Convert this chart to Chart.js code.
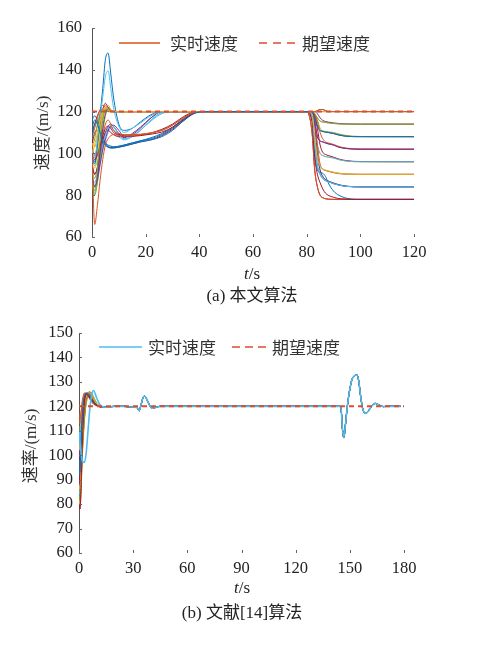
<!DOCTYPE html>
<html>
<head>
<meta charset="utf-8">
<script src="https://cdn.jsdelivr.net/npm/chart.js@4.4.1/dist/chart.umd.min.js"></script>
<style>
html, body { margin: 0; padding: 0; background: #fff; }
#wrapA { position: absolute; left: 0; top: 0; width: 477px; height: 310px; }
#wrapB { position: absolute; left: 0; top: 310px; width: 477px; height: 337px; }
</style>
</head>
<body>
<div id="wrapA"><canvas id="chartA"></canvas></div>
<div id="wrapB"><canvas id="chartB"></canvas></div>
<script>
// MATLAB 默认配色
const palette = ['#0072BD', '#D95319', '#EDB120', '#7E2F8E', '#77AC30', '#4DBEEE', '#A2142F'];
const dashColor = '#DE4B32';

// ---------- (a) 本文算法 ----------
const refTimeA = [0, 120];
const refSpeedA = [120, 120];

// 前段时间 (0-42 s)
const tEarlyA = [0, 1, 2, 3, 4, 5, 6, 7, 8, 10, 12, 15, 18, 22, 26, 30, 34, 38, 42];
// 快速收敛
const fastA = [100, 104, 110, 116, 121, 122, 121, 120.5, 120, 120, 120, 120, 120, 120, 120, 120, 120, 120, 120];
const fastB = [95, 93, 100, 110, 118, 122, 123, 121, 120, 120, 120, 120, 120, 120, 120, 120, 120, 120, 120];
const fastC = [108, 112, 117, 121, 123, 122, 121, 120, 120, 120, 120, 120, 120, 120, 120, 120, 120, 120, 120];
const fastD = [90, 84, 88, 100, 112, 119, 121, 120.5, 120, 120, 120, 120, 120, 120, 120, 120, 120, 120, 120];
const fastE = [105, 103, 108, 115, 120, 121.5, 121, 120, 120, 120, 120, 120, 120, 120, 120, 120, 120, 120, 120];
const fastF = [98, 96, 104, 114, 121, 124, 122, 120.5, 120, 120, 120, 120, 120, 120, 120, 120, 120, 120, 120];
const fastG = [88, 82, 92, 106, 116, 121, 121, 120, 120, 120, 120, 120, 120, 120, 120, 120, 120, 120, 120];
const fastH = [103, 107, 114, 119, 121, 120.5, 120, 120, 120, 120, 120, 120, 120, 120, 120, 120, 120, 120, 120];
const fastI = [110, 114, 118, 120.5, 121, 120.5, 120, 120, 120, 120, 120, 120, 120, 120, 120, 120, 120, 120, 120];
const fastJ = [92, 88, 94, 106, 116, 121, 122, 121, 120, 120, 120, 120, 120, 120, 120, 120, 120, 120, 120];
const fastK = [107, 109, 113, 118, 121, 123, 122, 120.5, 120, 120, 120, 120, 120, 120, 120, 120, 120, 120, 120];
const fastL = [85, 80, 86, 98, 110, 118, 121, 120.5, 120, 120, 120, 120, 120, 120, 120, 120, 120, 120, 120];
const fastM = [101, 99, 104, 112, 119, 122, 121, 120, 120, 120, 120, 120, 120, 120, 120, 120, 120, 120, 120];
// 尖峰
const spikeA = [98, 95, 104, 118, 131, 145, 148, 138, 127, 114, 111, 112, 115, 118.5, 120, 120, 120, 120, 120];
const spikeB = [102, 98, 106, 117, 127, 137, 139.5, 131, 122, 113, 110, 112, 114.5, 118, 120, 120, 120, 120, 120];
// 中速(先鼓包再上升)
const medA = [90, 86, 90, 97, 104, 109, 112, 113.5, 113, 109, 107, 108.5, 111, 116, 119.5, 120, 120, 120, 120];
const medB = [98, 94, 96, 101, 106, 110, 112, 112.5, 111.5, 108, 106.5, 108, 111, 115.5, 119, 120, 120, 120, 120];
const medC = [88, 84, 88, 95, 102, 107, 111, 113, 113.5, 111, 108, 109, 112, 117, 120, 120, 120, 120, 120];
const medD = [94, 90, 93, 99, 105, 110, 113, 114, 113, 109.5, 107.5, 109.5, 112.5, 117, 120, 120, 120, 120, 120];
const medE = [86, 81, 86, 94, 101, 106, 110, 112, 112.5, 109, 107, 108, 111, 116, 119.5, 120, 120, 120, 120];
// 慢速(平台约 109)
const slowA = [100, 97, 99, 103, 108, 112, 113, 112, 110, 109, 108.5, 108.2, 108.5, 109.2, 110.2, 112.5, 116, 119.3, 120];
const slowB = [104, 99, 100, 104, 109, 114, 116, 114, 111, 109.5, 109, 109, 109.2, 109.8, 111, 113.5, 117, 119.6, 120];
const slowC = [100, 66, 75, 87, 97, 104, 107, 108.5, 109, 108.5, 108.3, 108.5, 109, 109.8, 111, 113.5, 117, 119.5, 120];
const slowD = [95, 90, 93, 100, 106, 110, 111, 110, 109, 108, 108, 108.3, 108.8, 109.8, 111.5, 114, 117.5, 119.8, 120];
// 慢速(先高后降到约 103)
const lowA = [112, 116, 114, 110, 106, 104, 103, 102.5, 102.5, 103, 103.5, 104.5, 105.5, 106.5, 108, 111, 115.5, 119, 120];
const lowB = [108, 114, 115, 112, 108, 105, 103.5, 103, 103, 103.5, 104, 105, 106, 107.5, 109.5, 112.5, 116.5, 119.5, 120];
const lowC = [116, 118, 116, 112, 108, 105, 104, 103.5, 103.2, 103.3, 104, 105, 106, 107, 109, 112, 116, 119.5, 120];
const lowD = [104, 110, 111, 109, 106, 104, 103, 102.8, 102.8, 103, 103.5, 104.5, 105.5, 106.5, 108.5, 111.5, 115.5, 119.2, 120];

// 后段时间 (80-120 s)
const tLateA = [80, 82, 83, 84, 85, 86, 87, 88, 90, 92, 95, 100, 120];
const keep120a = [120, 120, 120, 120.5, 121, 121, 120.5, 120, 120, 120, 120, 120, 120];
const keep120b = [120, 120, 120, 120, 120, 120, 120, 120, 120, 120, 120, 120, 120];
const to114a = [120, 120, 119, 117, 115.5, 115, 114.8, 114.6, 114.3, 114.1, 114, 114, 114];
const to114b = [120, 120, 120, 119, 117, 115.8, 115.3, 115, 114.6, 114.3, 114.1, 114, 114];
const to108a = [120, 120, 117, 113, 111, 110.5, 110.2, 110, 109.5, 108.8, 108.2, 108, 108];
const to108b = [120, 120, 119, 116, 112, 110.8, 110.5, 110.3, 110, 109.3, 108.5, 108.1, 108];
const to102a = [120, 120, 115, 108, 106, 105.5, 105, 104.6, 104, 103, 102.3, 102, 102];
const to102b = [120, 120, 119, 115, 110, 107, 105.5, 105, 104.3, 103.3, 102.5, 102.1, 102];
const to96a = [120, 120, 113, 104, 100, 99, 98.5, 98.2, 97.8, 97, 96.3, 96, 96];
const to96b = [120, 120, 118, 112, 104, 100.5, 99.5, 99, 98.2, 97.3, 96.5, 96.1, 96];
const to90a = [120, 119, 108, 98, 94, 92.5, 92, 91.6, 91, 90.5, 90.1, 90, 90];
const to90b = [120, 120, 116, 104, 95, 92.5, 91.8, 91.4, 90.8, 90.3, 90.1, 90, 90];
const to84a = [120, 118, 104, 94, 90, 88, 87, 86.5, 85.5, 84.8, 84.2, 84, 84];
const to84b = [120, 120, 114, 100, 92, 89, 87.5, 86.8, 85.8, 85, 84.3, 84, 84];
const to78a = [120, 115, 98, 90, 86, 83, 81, 80, 79, 78.4, 78.1, 78, 78];
const to78b = [120, 110, 92, 84, 80, 78.8, 78.3, 78.1, 78, 78, 78, 78, 78];
const to78c = [120, 116, 100, 92, 91, 90.5, 89, 86, 82, 80, 78.5, 78, 78];

// 每条曲线: [前段, 后段]
const pairsA = [
  [lowA, to108a], [slowC, keep120a], [fastA, to90a], [fastD, to102a], [fastG, to114a],
  [spikeB, to84a], [slowA, to78a], [spikeA, to78c], [slowB, to90b], [fastB, keep120b],
  [medC, to84b], [fastL, keep120b], [medA, to96a], [slowD, to96b], [lowB, keep120a],
  [fastC, to102b], [fastE, to96a], [fastF, to114b], [fastH, to108b], [medE, to90a],
  [fastI, to108a], [lowC, to84a], [fastK, to78b], [fastM, to114a], [medD, to102a],
  [fastJ, to84b], [medB, keep120b], [lowD, to78b]
];

// ---------- (b) 文献[14]算法 ----------
const refTimeB = [0, 180];
const refSpeedB = [120, 120];

const tEarlyB = [0, 0.5, 1, 1.5, 2, 3, 4, 5, 6, 7, 8, 10, 12, 15, 20];
const earlyB = [
  [110, 106, 102, 99, 97.5, 97, 101, 110, 119, 124.5, 126.5, 123, 120.3, 119.6, 120],
  [80, 78, 84, 96, 108, 121, 125, 124.5, 123.5, 122.5, 121.5, 120.3, 119.8, 119.7, 120],
  [95, 93, 100, 110, 117, 124, 125.5, 125, 124, 123, 122, 120.5, 119.8, 119.8, 120],
  [115, 113, 116, 120, 123, 125.5, 125, 124, 123, 122, 121, 120.2, 119.8, 119.8, 120],
  [88, 86, 92, 102, 111, 120, 124, 125.5, 125.5, 124.5, 123, 120.8, 119.8, 119.6, 120],
  [102, 99, 104, 112, 118, 124, 125, 124.5, 123.5, 122.5, 121.5, 120.2, 119.8, 119.8, 120],
  [84, 82, 86, 95, 104, 115, 121, 124, 125.5, 125.5, 124, 121.2, 120, 119.6, 120],
  [110, 107, 110, 115, 120, 124.5, 125, 124, 123, 122, 121.2, 120.3, 119.9, 119.8, 120],
  [92, 89, 95, 105, 113, 122, 125, 125.5, 124.5, 123.5, 122.2, 120.5, 119.8, 119.7, 120],
  [98, 96, 102, 110, 116, 123, 125, 125, 124, 123, 121.8, 120.3, 119.8, 119.8, 120],
  [79, 78, 82, 92, 102, 114, 122, 125.5, 126, 125, 123, 120.8, 119.8, 119.6, 120],
  [106, 102, 105, 111, 116, 122, 124.5, 125, 124.5, 123.5, 122, 120.4, 119.9, 119.8, 120],
  [90, 87, 91, 100, 108, 118, 123, 125, 125.5, 124.5, 123, 120.7, 119.8, 119.7, 120],
  [112, 109, 112, 117, 121, 125, 125.5, 124.5, 123.5, 122, 121, 120.2, 119.9, 119.8, 120],
  [86, 84, 89, 98, 107, 118, 123.5, 125.5, 125.5, 124.5, 123, 120.7, 119.8, 119.6, 120],
  [100, 98, 103, 111, 117, 123.5, 125, 125, 124, 123, 121.8, 120.3, 119.8, 119.8, 120],
  [94, 91, 96, 105, 112, 120, 124, 125.5, 125, 124, 122.5, 120.5, 119.8, 119.7, 120],
  [117, 115, 117, 120, 122.5, 125, 125, 124, 123, 122, 121, 120.2, 119.9, 119.8, 120],
  [82, 80, 85, 94, 103, 115, 122, 125, 126, 125, 123.5, 121, 119.9, 119.6, 120],
  [104, 101, 106, 113, 118, 123, 124.5, 125, 124.5, 123.5, 122, 120.4, 119.9, 119.8, 120]
];
const tTailB = [25, 30, 32, 33.3, 34.5, 35.5, 36.4, 37.5, 39, 40, 41, 43, 45, 60, 144, 145, 146, 146.7, 147.5, 148.6,
  150, 151, 152, 153, 154, 155, 156, 157, 158, 158.7, 160, 162, 164, 166, 168.5, 172, 178];
const vTailB = [120, 119.6, 119.5, 118.2, 121, 123.6, 124.2, 123, 120.5, 119.5, 119.2, 119.7, 120, 120, 120, 119.8, 110, 107.3, 112, 120,
  127, 130.5, 132.1, 132.7, 132.8, 130, 124, 119.5, 117.3, 117.1, 117.8, 120, 121.2, 120.6, 119.9, 120, 120];

// ---------- 工具 ----------
function toPoints(ts, vs) {
  return ts.map((t, k) => ({ x: t, y: vs[k] }));
}

const serif = '"Liberation Serif", "Times New Roman", serif';
const mixed = '"Liberation Serif", "Noto Sans CJK SC", serif';

// 坐标内侧刻度、图例、坐标轴标题
const decor = {
  id: 'decor',
  afterDraw(chart, args, o) {
    const ctx = chart.ctx;
    const area = chart.chartArea;
    const xs = chart.scales.x;
    const ys = chart.scales.y;
    ctx.save();
    ctx.strokeStyle = '#666';
    ctx.lineWidth = 1;
    ctx.beginPath();
    xs.ticks.forEach(t => {
      const px = Math.round(xs.getPixelForValue(t.value)) + 0.5;
      ctx.moveTo(px, area.bottom);
      ctx.lineTo(px, area.bottom - 3);
    });
    ys.ticks.forEach(t => {
      const py = Math.round(ys.getPixelForValue(t.value)) + 0.5;
      ctx.moveTo(area.left, py);
      ctx.lineTo(area.left + 3, py);
    });
    ctx.stroke();

    // 图例
    ctx.textBaseline = 'middle';
    ctx.textAlign = 'left';
    o.legend.forEach(it => {
      const ds = chart.data.datasets[it.ds];
      ctx.strokeStyle = ds.borderColor;
      ctx.lineWidth = 1.3;
      ctx.setLineDash(it.dash);
      ctx.beginPath();
      ctx.moveTo(it.x1, o.legendY);
      ctx.lineTo(it.x2, o.legendY);
      ctx.stroke();
      ctx.setLineDash([]);
      ctx.font = '17px "Noto Sans CJK SC"';
      ctx.fillStyle = '#333';
      ctx.fillText(ds.label, it.tx, o.legendY + 1);
    });

    // 纵轴标题
    ctx.save();
    ctx.translate(o.yTitleX, o.yTitleY);
    ctx.rotate(-Math.PI / 2);
    ctx.textAlign = 'center';
    ctx.font = '17px ' + mixed;
    ctx.fillStyle = '#333';
    ctx.fillText(o.yTitle, 0, 0);
    ctx.restore();

    // 横轴标题 t/s
    ctx.font = 'italic 17px ' + serif;
    const w1 = ctx.measureText('t').width;
    ctx.font = '17px ' + serif;
    const w2 = ctx.measureText('/s').width;
    const sx = o.xTitleX - (w1 + w2) / 2;
    ctx.fillStyle = '#222';
    ctx.textAlign = 'left';
    ctx.font = 'italic 17px ' + serif;
    ctx.fillText('t', sx, o.xTitleY);
    ctx.font = '17px ' + serif;
    ctx.fillText('/s', sx + w1, o.xTitleY);

    // 图注
    ctx.textAlign = 'center';
    ctx.font = '17px ' + mixed;
    ctx.fillText(o.caption, o.xTitleX, o.captionY);
    ctx.restore();
  }
};

function makeOptions(xMin, xMax, xStep, yMin, yMax, yStep, yWidth, yPad, pad, decorOpts) {
  return {
    responsive: true,
    maintainAspectRatio: false,
    animation: false,
    layout: { padding: pad },
    elements: {
      point: { radius: 0 },
      line: { borderWidth: 1, cubicInterpolationMode: 'monotone' }
    },
    plugins: {
      legend: { display: false },
      tooltip: { enabled: false },
      decor: decorOpts
    },
    scales: {
      x: {
        type: 'linear', min: xMin, max: xMax,
        afterFit: s => { s.height = 30; },
        grid: { display: false, drawTicks: false },
        border: { display: false },
        ticks: { stepSize: xStep, padding: 6, color: '#222', maxRotation: 0, font: { family: serif, size: 16.5 } }
      },
      y: {
        min: yMin, max: yMax,
        afterFit: s => { s.width = yWidth; },
        grid: { display: false, drawTicks: false },
        border: { display: true, color: '#555', width: 1 },
        ticks: { stepSize: yStep, padding: yPad, color: '#222', font: { family: serif, size: 16.5 } }
      }
    }
  };
}

// ---------- 图 (a) ----------
const dataSetsA = [{
  label: '期望速度',
  data: toPoints(refTimeA, refSpeedA),
  borderColor: dashColor,
  borderWidth: 2,
  borderDash: [5, 4]
}];
pairsA.forEach((p, i) => {
  dataSetsA.push({
    label: i === 1 ? '实时速度' : '',
    data: toPoints(tEarlyA, p[0]).concat(toPoints(tLateA, p[1])),
    borderColor: palette[i % 7]
  });
});

new Chart(document.getElementById('chartA'), {
  type: 'line',
  data: { datasets: dataSetsA },
  plugins: [decor],
  options: makeOptions(0, 120, 20, 60, 160, 20, 92, 10,
    { left: 0, top: 28, right: 63, bottom: 43 },
    {
      legendY: 43,
      legend: [
        { ds: 2, x1: 119, x2: 160, tx: 170, dash: [] },
        { ds: 0, x1: 259, x2: 296, tx: 302, dash: [8, 6] }
      ],
      yTitle: '速度/(m/s)', yTitleX: 44, yTitleY: 133,
      xTitleX: 252, xTitleY: 275,
      caption: '(a) 本文算法', captionY: 297
    })
});

// ---------- 图 (b) ----------
const dataSetsB = [{
  label: '期望速度',
  data: toPoints(refTimeB, refSpeedB),
  borderColor: dashColor,
  borderWidth: 2,
  borderDash: [5, 4]
}];
earlyB.forEach((vals, i) => {
  dataSetsB.push({
    label: i === 0 ? '实时速度' : '',
    data: toPoints(tEarlyB, vals).concat(toPoints(tTailB, vTailB)),
    borderColor: palette[(i + 5) % 7],
    borderWidth: i === 0 ? 1.6 : 1
  });
});

new Chart(document.getElementById('chartB'), {
  type: 'line',
  data: { datasets: dataSetsB },
  plugins: [decor],
  options: makeOptions(0, 180, 30, 60, 150, 10, 79, 6,
    { left: 0, top: 23, right: 73, bottom: 64 },
    {
      legendY: 37,
      legend: [
        { ds: 1, x1: 99, x2: 142, tx: 148, dash: [] },
        { ds: 0, x1: 232, x2: 267, tx: 272, dash: [8, 5] }
      ],
      yTitle: '速率/(m/s)', yTitleX: 32, yTitleY: 136,
      xTitleX: 242, xTitleY: 279,
      caption: '(b) 文献[14]算法', captionY: 304
    })
});
</script>
</body>
</html>
